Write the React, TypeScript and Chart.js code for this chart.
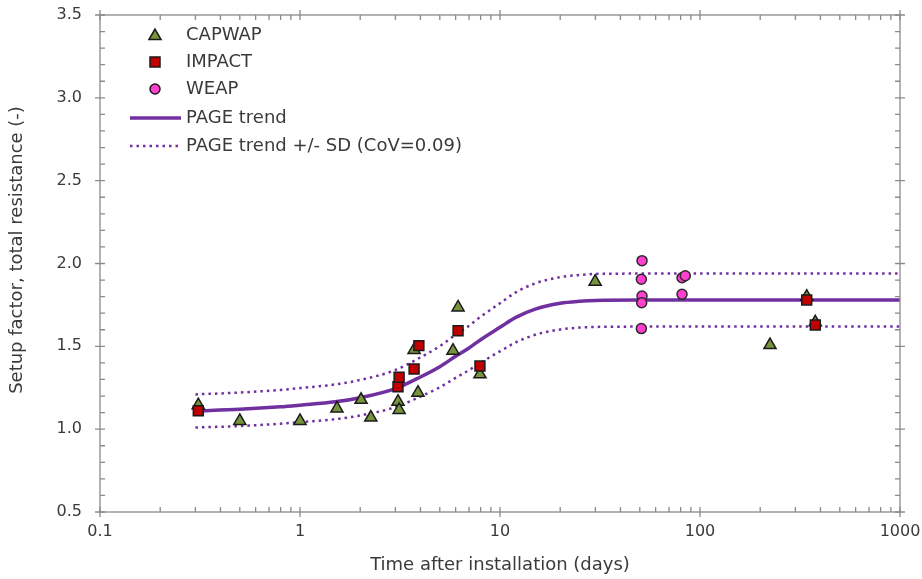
import React, { useEffect, useRef } from 'react';
import { Chart, registerables } from 'chart.js';

Chart.register(...registerables);

// ---- Data ----
const capwapX = [0.31, 0.5, 1.0, 1.53, 2.02, 2.26, 3.09, 3.13, 3.72, 3.89, 5.82, 6.17, 7.94, 29.9, 223.9, 341.6, 377];
const capwapY = [1.145, 1.05, 1.05, 1.125, 1.177, 1.07, 1.166, 1.116, 1.478, 1.22, 1.474, 1.735, 1.331, 1.89, 1.508, 1.80, 1.645];

const impactX = [0.31, 3.09, 3.13, 3.72, 3.93, 6.17, 7.94, 341.6, 377];
const impactY = [1.111, 1.256, 1.313, 1.363, 1.504, 1.594, 1.381, 1.78, 1.629];

const weapX = [51.3, 50.9, 51.3, 51.1, 50.9, 81.3, 84.4, 81.3];
const weapY = [2.017, 1.905, 1.804, 1.763, 1.607, 1.914, 1.926, 1.814];

const trendX = [0.3, 0.5, 0.8, 1, 1.5, 2, 3, 4, 5, 6, 7, 8, 10, 12, 15, 20, 25, 30, 50, 100, 1000];
const trendY = [1.11, 1.12, 1.135, 1.145, 1.165, 1.19, 1.245, 1.315, 1.377, 1.44, 1.49, 1.54, 1.615, 1.675, 1.725, 1.76, 1.772, 1.777, 1.779, 1.779, 1.779];
const upperY = [1.21, 1.221, 1.237, 1.248, 1.27, 1.297, 1.357, 1.433, 1.501, 1.57, 1.624, 1.679, 1.76, 1.826, 1.88, 1.918, 1.931, 1.937, 1.939, 1.939, 1.939];
const lowerY = [1.01, 1.019, 1.033, 1.042, 1.06, 1.083, 1.133, 1.197, 1.253, 1.31, 1.356, 1.401, 1.47, 1.524, 1.57, 1.602, 1.613, 1.617, 1.619, 1.619, 1.619];

const xTickValues = [0.1, 1, 10, 100, 1000];
const xTickLabels = ['0.1', '1', '10', '100', '1000'];
const yTickValues = [0.5, 1.0, 1.5, 2.0, 2.5, 3.0, 3.5];
const yTickLabels = ['0.5', '1.0', '1.5', '2.0', '2.5', '3.0', '3.5'];

const xTitle = 'Time after installation (days)';
const yTitle = 'Setup factor, total resistance (-)';
const legendLabels = ['CAPWAP', 'IMPACT', 'WEAP', 'PAGE trend', 'PAGE trend +/- SD (CoV=0.09)'];

// ---- Styles ----
const FONT = '"DejaVu Sans", sans-serif';
const TEXT = '#3a3a3a';
const AXIS = '#8a8a8a';
const PURPLE = '#7030A0';
const OLIVE = '#77933C';
const RED = '#C00000';
const MAGENTA = '#FF3FCF';

const pts = (xs: number[], ys: number[]) => xs.map((x, i) => ({ x, y: ys[i] }));

function drawMarker(ctx: CanvasRenderingContext2D, kind: string, x: number, y: number) {
  ctx.save();
  ctx.lineWidth = 1.5;
  ctx.strokeStyle = '#1a1a1a';
  ctx.beginPath();
  if (kind === 'triangle') {
    const r = 7;
    ctx.moveTo(x, y - r);
    ctx.lineTo(x + r * Math.sin((2 * Math.PI) / 3), y + r / 2);
    ctx.lineTo(x - r * Math.sin((2 * Math.PI) / 3), y + r / 2);
    ctx.closePath();
    ctx.fillStyle = OLIVE;
  } else if (kind === 'rect') {
    const s = 5;
    ctx.rect(x - s, y - s, 2 * s, 2 * s);
    ctx.fillStyle = RED;
  } else {
    ctx.arc(x, y, 5, 0, Math.PI * 2);
    ctx.fillStyle = MAGENTA;
  }
  ctx.fill();
  ctx.stroke();
  ctx.restore();
}

const framePlugin = {
  id: 'frameTicks',
  afterDraw(chart: any) {
    const { ctx, chartArea } = chart;
    const { left, right, top, bottom } = chartArea;
    const xs = chart.scales.x;
    const ys = chart.scales.y;
    ctx.save();
    ctx.strokeStyle = AXIS;
    ctx.lineWidth = 1.3;
    ctx.strokeRect(left, top, right - left, bottom - top);
    ctx.beginPath();
    for (let e = -1; e <= 3; e++) {
      const base = Math.pow(10, e);
      const px = xs.getPixelForValue(base);
      ctx.moveTo(px, bottom + 5); ctx.lineTo(px, bottom - 5);
      ctx.moveTo(px, top - 5); ctx.lineTo(px, top + 5);
      if (e < 3) {
        for (let m = 2; m <= 9; m++) {
          const mp = xs.getPixelForValue(base * m);
          ctx.moveTo(mp, bottom); ctx.lineTo(mp, bottom - 5);
          ctx.moveTo(mp, top); ctx.lineTo(mp, top + 5);
        }
      }
    }
    for (let i = 0; i <= 30; i++) {
      const v = 0.5 + i * 0.1;
      const py = ys.getPixelForValue(v);
      if (i % 5 === 0) {
        ctx.moveTo(left - 5, py); ctx.lineTo(left + 5, py);
        ctx.moveTo(right - 5, py); ctx.lineTo(right + 5, py);
      } else {
        ctx.moveTo(left, py); ctx.lineTo(left + 5, py);
        ctx.moveTo(right, py); ctx.lineTo(right - 5, py);
      }
    }
    ctx.stroke();

    // y-axis title
    ctx.save();
    ctx.font = `18px ${FONT}`;
    ctx.fillStyle = TEXT;
    ctx.textAlign = 'center';
    ctx.textBaseline = 'middle';
    ctx.translate(17, 250);
    ctx.rotate(-Math.PI / 2);
    ctx.fillText(yTitle, 0, 0);
    ctx.restore();

    // legend
    const lx = left + 55;
    const tx = left + 86;
    const rows = [35, 62, 89, 118, 146];
    ctx.font = `18px ${FONT}`;
    ctx.textBaseline = 'middle';
    ctx.textAlign = 'left';
    drawMarker(ctx, 'triangle', lx, rows[0] + 1);
    drawMarker(ctx, 'rect', lx, rows[1]);
    drawMarker(ctx, 'circle', lx, rows[2]);
    ctx.strokeStyle = PURPLE;
    ctx.lineWidth = 3.5;
    ctx.beginPath();
    ctx.moveTo(left + 30, rows[3]); ctx.lineTo(left + 81, rows[3]);
    ctx.stroke();
    ctx.lineWidth = 2.5;
    ctx.setLineDash([2.5, 4]);
    ctx.beginPath();
    ctx.moveTo(left + 30, rows[4]); ctx.lineTo(left + 81, rows[4]);
    ctx.stroke();
    ctx.setLineDash([]);
    ctx.fillStyle = TEXT;
    legendLabels.forEach((t, i) => ctx.fillText(t, tx, rows[i]));
    ctx.restore();
  },
};

export default function App() {
  const ref = useRef<HTMLCanvasElement | null>(null);
  useEffect(() => {
    if (!ref.current) return;
    const lineCommon = {
      showLine: true,
      pointRadius: 0,
      pointHoverRadius: 0,
      borderColor: PURPLE,
      backgroundColor: PURPLE,
      fill: false,
      cubicInterpolationMode: 'monotone' as const,
      order: 10,
    };
    const chart = new Chart(ref.current, {
      type: 'scatter',
      data: {
        datasets: [
          {
            label: legendLabels[0],
            data: pts(capwapX, capwapY),
            pointStyle: 'triangle',
            pointRadius: 7,
            backgroundColor: OLIVE,
            borderColor: '#1a1a1a',
            borderWidth: 1.5,
            order: 3,
          },
          {
            label: legendLabels[1],
            data: pts(impactX, impactY),
            pointStyle: 'rect',
            pointRadius: 7,
            backgroundColor: RED,
            borderColor: '#1a1a1a',
            borderWidth: 1.5,
            order: 2,
          },
          {
            label: legendLabels[2],
            data: pts(weapX, weapY),
            pointStyle: 'circle',
            pointRadius: 5,
            backgroundColor: MAGENTA,
            borderColor: '#2a2a2a',
            borderWidth: 1.5,
            order: 1,
          },
          { label: legendLabels[3], data: pts(trendX, trendY), borderWidth: 3.5, ...lineCommon },
          { label: legendLabels[4], data: pts(trendX, upperY), borderWidth: 2.5, borderDash: [2.5, 4], ...lineCommon },
          { label: 'lower', data: pts(trendX, lowerY), borderWidth: 2.5, borderDash: [2.5, 4], ...lineCommon },
        ] as any,
      },
      options: {
        animation: false,
        responsive: false,
        events: [],
        layout: { padding: { top: 15, right: 22, left: 0, bottom: 0 } },
        plugins: { legend: { display: false }, tooltip: { enabled: false } },
        scales: {
          x: {
            type: 'logarithmic',
            min: 0.1,
            max: 1000,
            grid: { display: false, drawTicks: false },
            border: { display: false },
            afterBuildTicks: (s: any) => {
              s.ticks = xTickValues.map((v) => ({ value: v }));
            },
            afterFit: (s: any) => {
              s.height = 67;
              s.paddingLeft = 0;
              s.paddingRight = 0;
            },
            ticks: {
              autoSkip: false,
              maxRotation: 0,
              padding: 10,
              color: TEXT,
              font: { family: FONT, size: 16 },
              callback: (v: any) => {
                const i = xTickValues.findIndex((t) => Math.abs(t - Number(v)) < 1e-9);
                return i >= 0 ? xTickLabels[i] : '';
              },
            },
            title: {
              display: true,
              text: xTitle,
              color: TEXT,
              font: { family: FONT, size: 18 },
              padding: { top: 0, bottom: 3 },
            },
          },
          y: {
            type: 'linear',
            min: 0.5,
            max: 3.5,
            grid: { display: false, drawTicks: false },
            border: { display: false },
            afterBuildTicks: (s: any) => {
              s.ticks = yTickValues.map((v) => ({ value: v }));
            },
            afterFit: (s: any) => {
              s.width = 100;
              s.paddingTop = 0;
              s.paddingBottom = 0;
            },
            ticks: {
              padding: 18,
              color: TEXT,
              font: { family: FONT, size: 16 },
              callback: (v: any) => {
                const i = yTickValues.findIndex((t) => Math.abs(t - Number(v)) < 1e-9);
                return i >= 0 ? yTickLabels[i] : '';
              },
            },
            title: { display: false },
          },
        },
      } as any,
      plugins: [framePlugin],
    });
    return () => chart.destroy();
  }, []);
  return (
    <div style={{ position: 'absolute', left: 0, top: 0, width: 922, height: 579, background: '#fff' }}>
      <canvas ref={ref} width={922} height={579} style={{ width: 922, height: 579 }} />
    </div>
  );
}
